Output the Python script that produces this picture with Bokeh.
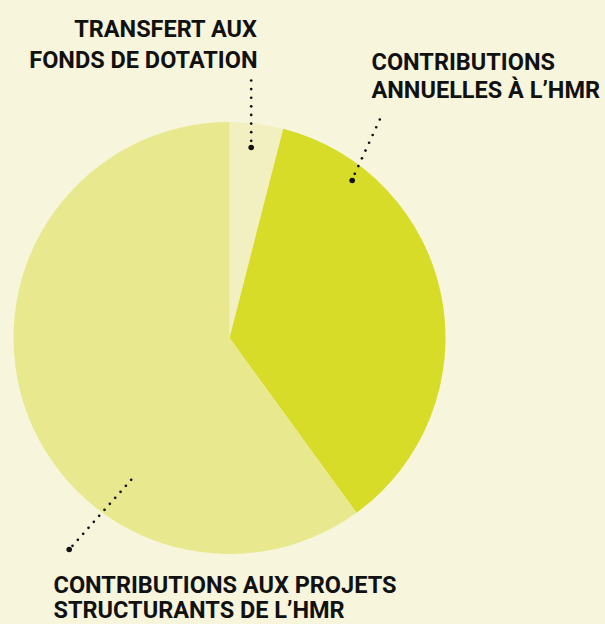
import numpy as np
from bokeh.plotting import figure
from bokeh.models import Range1d, ColumnDataSource
from bokeh.core.properties import value
from bokeh.embed import file_html
from bokeh.resources import INLINE

# ---- data ----
categories = ["Transfert aux fonds de dotation",
              "Contributions annuelles à l’HMR",
              "Contributions aux projets structurants de l’HMR"]
shares = [4.0, 36.0, 60.0]
colors = ["#F2F0C0", "#D7DC28", "#E8E98F"]

label_lines = [["TRANSFERT AUX", "FONDS DE DOTATION"],
               ["CONTRIBUTIONS", "ANNUELLES À L’HMR"],
               ["CONTRIBUTIONS AUX PROJETS", "STRUCTURANTS DE L’HMR"]]

BG = "#F7F6DC"
PAGE_W, PAGE_H = 605, 624

def Y(py):
    return PAGE_H - py

p = figure(width=PAGE_W, height=PAGE_H, output_backend="svg", toolbar_location=None,
           x_range=Range1d(0, PAGE_W), y_range=Range1d(0, PAGE_H),
           min_border=0)
p.axis.visible = False
p.grid.visible = False
p.outline_line_color = None
p.background_fill_color = BG
p.border_fill_color = BG

# ---- pie ----
cx, cy, R = 229, Y(337.5), 216
vals = np.array(shares, dtype=float)
frac = vals / vals.sum()
c1 = np.cumsum(frac)
c0 = c1 - frac
src = ColumnDataSource(dict(
    start=np.pi / 2 - 2 * np.pi * c0,
    end=np.pi / 2 - 2 * np.pi * c1,
    color=colors,
    name=categories,
))
p.wedge(x=cx, y=cy, radius=R, start_angle="start", end_angle="end",
        direction="clock", fill_color="color", line_color=None, source=src)

# ---- leaders (page coords): first small dot, last small dot, big dot, count ----
leaders = [
    ((250.7, 80.0), (250.7, 140.3), (250.7, 147.0), 8),
    ((379.3, 119.0), (354.3, 173.3), (351.7, 180.0), 8),
    ((130.7, 479.3), (72.0, 545.3), (68.7, 549.0), 12),
]
for (a, b, big, n) in leaders:
    xs = np.linspace(a[0], b[0], n)
    ys = np.array([Y(v) for v in np.linspace(a[1], b[1], n)])
    p.scatter(xs, ys, size=2.7, color="#111111", line_color=None)
    p.scatter([big[0]], [Y(big[1])], size=5.6, color="#111111", line_color=None)

# ---- labels ----
FONT = value("Roboto")
specs = [  # x, first baseline, line gap, align
    (257, 28.5, 30.5, "right"),
    (371, 61.5, 28.0, "left"),
    (53, 584.0, 25.0, "left"),
]
for lines, (x, b0, gap, al) in zip(label_lines, specs):
    ys = [Y(b0 + i * gap) for i in range(len(lines))]
    p.text(x=[x] * len(lines), y=ys, text=lines, text_font=FONT,
           text_font_style="bold", text_font_size="23.5px", text_color="#111111",
           text_align=al, text_baseline="alphabetic")

html = file_html(p, INLINE)
html = html.replace("<head>",
                    "<head><style>html,body{margin:0;padding:0;background:%s;overflow:hidden;}</style>" % BG, 1)
open("out.html", "w").write(html)
